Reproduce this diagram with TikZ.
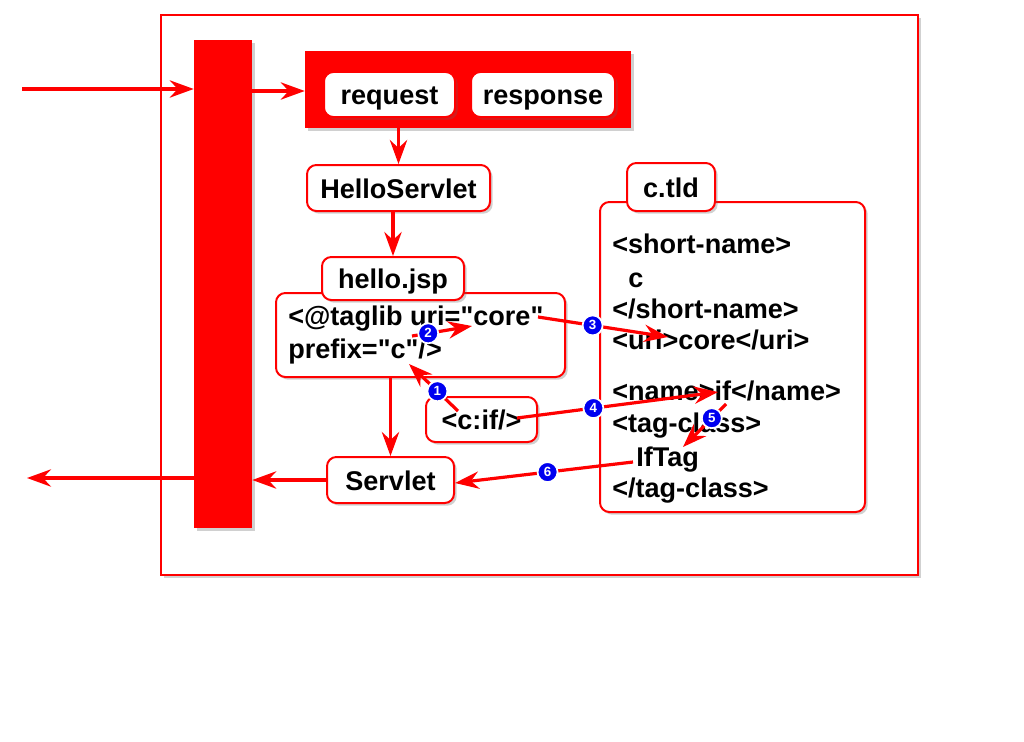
\documentclass[tikz,border=0pt]{standalone}
\usepackage{fontspec}
\setmainfont{Liberation Sans}[Ligatures=TeXOff]
\usetikzlibrary{arrows.meta, positioning, shadows, calc}
\definecolor{jred}{HTML}{FF0000}
\definecolor{jblue}{HTML}{0000F0}
\tikzset{
  shad/.style={drop shadow={shadow xshift=2pt, shadow yshift=-2pt, opacity=0.3, fill=black!60}},
  wbox/.style={draw=jred, fill=white, line width=1.5pt, rounded corners=7pt, shad,
               font=\fontsize{20.3}{24}\selectfont\bfseries, inner sep=0pt,
               text height=16.5pt, text depth=1.5pt},
  rblock/.style={fill=jred, draw=none, shad, inner sep=0pt},
  txt/.style={font=\fontsize{20.3}{24}\selectfont\bfseries, inner sep=0pt, anchor=west,
              text height=14.5pt, text depth=3.5pt},
  arr/.style={-{Stealth[length=18pt, width=13pt, inset=6pt]}, draw=jred, line width=2.4pt},
  badge/.style={circle, fill=jblue, draw=white, line width=1.3pt, inner sep=0pt, minimum size=15pt,
                text=white, font=\fontsize{10}{10}\selectfont\bfseries},
}
\begin{document}
\begin{tikzpicture}[x=0.75pt, y=-0.75pt]
  \useasboundingbox (0,0) rectangle (1024,742);

  % Container
  \node[draw=jred, line width=2.2pt, fill=white, shad, minimum width=567.75pt, minimum height=420pt]
    (server) at (539.5,295) {};
  \node[rblock, minimum width=43.5pt, minimum height=366pt] (bar) at (223,284) {};

  % Request / response
  \node[rblock, minimum width=244.5pt, minimum height=57.75pt] (reqres) at (468,89.5) {};
  \node[wbox, minimum width=98.25pt, minimum height=33.75pt] (req) at (389.5,94.5) {request};
  \node[wbox, minimum width=108pt, minimum height=33.75pt] (resp) at (543,94.5) {response};

  % Servlets
  \node[wbox, minimum width=137.25pt, minimum height=34.5pt] (hello) at (398.5,188) {HelloServlet};
  \node[wbox, minimum width=95.25pt, minimum height=34.5pt] (servlet) at (390.5,480) {Servlet};

  % hello.jsp
  \node[wbox, minimum width=216.75pt, minimum height=63pt] (jsp) at (420.5,335) {};
  \node[wbox, minimum width=106.5pt, minimum height=32.25pt] (jsptab) at (393,278.5) {hello.jsp};
  \node[txt] (taglib) at (288,318) {<@taglib uri="core"};
  \node[txt] (prefix) at (288,351) {prefix="c"/>};
  \node[wbox, minimum width=83.25pt, minimum height=33.75pt] (cif) at (481.5,419.5) {<c:if/>};

  % c.tld
  \node[wbox, minimum width=198.75pt, minimum height=232.5pt] (tld) at (732.5,357) {};
  \node[wbox, minimum width=66pt, minimum height=36pt] (tldtab) at (671,187) {c.tld};
  \node[txt] (sn1) at (612,246) {<short-name>};
  \node[txt] (sn2) at (628,280) {c};
  \node[txt] (sn3) at (612,311) {</short-name>};
  \node[txt] (uri) at (612,342) {<uri>core</uri>};
  \node[txt] (name) at (612,393) {<name>if</name>};
  \node[txt] (tc1) at (612,425) {<tag-class>};
  \node[txt] (tc2) at (636,459) {IfTag};
  \node[txt] (tc3) at (612,490) {</tag-class>};

  % Flow
  \coordinate (in) at (22,89);
  \coordinate (out) at (27,478);
  \draw[arr] (in) -- (in -| bar.west);
  \draw[arr] (bar.east |- 0,91) -- (reqres.west |- 0,91);
  \draw[arr] (hello.north |- reqres.south) -- (hello.north);
  \draw[arr] (jsptab.north |- hello.south) -- (jsptab.north);
  \draw[arr] (servlet.north |- jsp.south) -- (servlet.north);
  \draw[arr] (servlet.west) -- (servlet.west -| bar.east);
  \draw[arr] (bar.west |- out) -- (out);

  % Tag lookup
  \coordinate (ifc) at (458,411);
  \coordinate (prefc) at (409,364);
  \coordinate (pfx) at (412,336);
  \coordinate (corea) at (472,326);
  \coordinate (coreq) at (538,317);
  \coordinate (uric) at (668,337);
  \coordinate (cifend) at (517,418);
  \coordinate (nameif) at (718,392);
  \coordinate (ifa) at (726,404);
  \coordinate (iftag) at (683,447);
  \coordinate (iftagl) at (633,462);
  \draw[arr] (ifc) -- (prefc) node[badge, pos=0.42] (b1) {1};
  \draw[arr] (pfx) -- (corea) node[badge, pos=0.27] (b2) {2};
  \draw[arr] (coreq) -- (uric) node[badge, pos=0.42] (b3) {3};
  \draw[arr] (cifend) -- (nameif) node[badge, pos=0.38] (b4) {4};
  \draw[arr] (ifa) -- (iftag) node[badge, pos=0.33] (b5) {5};
  \draw[arr] (iftagl) -- (servlet.east |- 0,483) node[badge, pos=0.48] (b6) {6};

\end{tikzpicture}
\end{document}
